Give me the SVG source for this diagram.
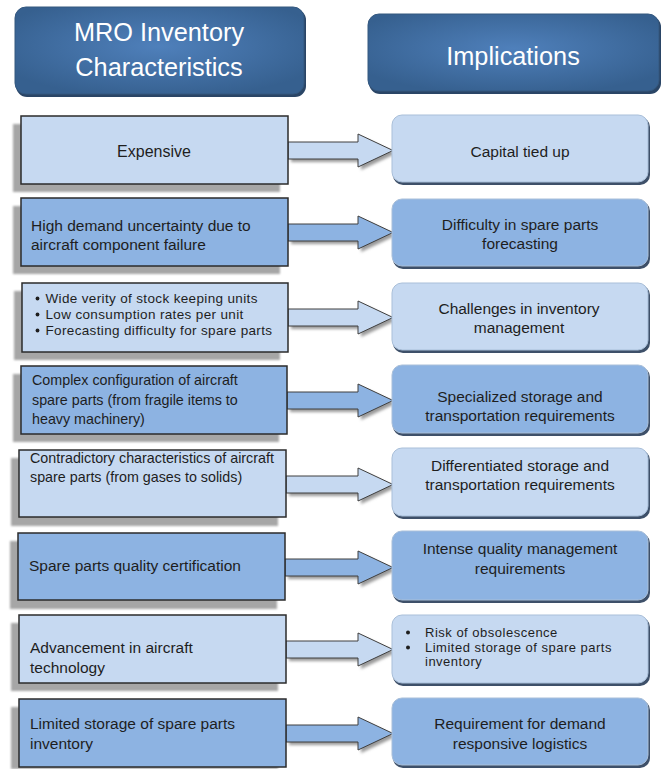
<svg xmlns="http://www.w3.org/2000/svg" width="664" height="769" viewBox="0 0 664 769">
<defs>
<radialGradient id="hg" cx="50%" cy="45%" r="60%">
<stop offset="0" stop-color="#4f80bb"/>
<stop offset="1" stop-color="#36608f"/>
</radialGradient>
<filter id="blur1" x="-10%" y="-10%" width="120%" height="130%"><feGaussianBlur stdDeviation="1.2"/></filter>
<filter id="blur2" x="-10%" y="-20%" width="120%" height="150%"><feGaussianBlur stdDeviation="1.5"/></filter>
<clipPath id="clipL7"><rect x="0" y="600" width="300" height="76"/></clipPath>
<clipPath id="clipR7"><rect x="390" y="600" width="270" height="75"/></clipPath>
<style>
.hdr{fill:url(#hg);stroke:#34587f;stroke-width:1}
.hsh{fill:#2a4566}
.ht{font-family:"Liberation Sans",Arial,sans-serif;font-size:25.3px;fill:#ffffff;text-anchor:middle}
.lsh{fill:#a6a6a6;filter:url(#blur1)}
.lb{stroke:#2b2b2b;stroke-width:1.5}
.light{fill:#c6d9f1}
.dark{fill:#8db3e2}
.t{font-family:"Liberation Sans",Arial,sans-serif;font-size:15.5px;fill:#1e1e1e}
.ts{font-size:14.3px}
.tb{font-size:13.5px;letter-spacing:0.35px}
.tbr{font-size:13px;letter-spacing:0.5px}
.c{text-anchor:middle}
.dot{fill:#1e1e1e}
.rsh{fill:#3e5069}
.rb{stroke:#a9bfd9;stroke-width:1}
.ash{fill:#9a9a9a;filter:url(#blur2)}
.arr{stroke:#3f3f3f;stroke-width:1;stroke-linejoin:miter}
</style>
</defs>
<rect width="664" height="769" fill="#ffffff"/>

<g id="hdr-left">
<rect class="hsh" x="16" y="9" width="290" height="88" rx="11"/>
<rect class="hdr" x="15" y="7" width="289" height="87" rx="11"/>
<text class="ht" x="159" y="41">MRO Inventory</text>
<text class="ht" x="159" y="76">Characteristics</text>
</g>
<g id="hdr-right">
<rect class="hsh" x="369" y="16" width="292" height="78" rx="11"/>
<rect class="hdr" x="368" y="14" width="291" height="77" rx="11"/>
<text class="ht" x="513" y="65">Implications</text>
</g>

<g id="connectors">
<path class="ash" d="M291,145 L361,145 L361,137 L396,153.5 L361,170 L361,162 L291,162 Z"/>
<path class="arr light" d="M288,142 L358,142 L358,134 L393,150.5 L358,167 L358,159 L288,159 Z"/>
<path class="ash" d="M291,227 L361,227 L361,219 L396,235.5 L361,252 L361,244 L291,244 Z"/>
<path class="arr dark" d="M288,224 L358,224 L358,216 L393,232.5 L358,249 L358,241 L288,241 Z"/>
<path class="ash" d="M291,312 L361,312 L361,304 L396,320.5 L361,337 L361,329 L291,329 Z"/>
<path class="arr light" d="M288,309 L358,309 L358,301 L393,317.5 L358,334 L358,326 L288,326 Z"/>
<path class="ash" d="M290,395 L361,395 L361,387 L396,403.5 L361,420 L361,412 L290,412 Z"/>
<path class="arr dark" d="M287,392 L358,392 L358,384 L393,400.5 L358,417 L358,409 L287,409 Z"/>
<path class="ash" d="M289,479 L361,479 L361,471 L396,487.5 L361,504 L361,496 L289,496 Z"/>
<path class="arr light" d="M286,476 L358,476 L358,468 L393,484.5 L358,501 L358,493 L286,493 Z"/>
<path class="ash" d="M288,562 L361,562 L361,554 L396,570.5 L361,587 L361,579 L288,579 Z"/>
<path class="arr dark" d="M285,559 L358,559 L358,551 L393,567.5 L358,584 L358,576 L285,576 Z"/>
<path class="ash" d="M289,644 L361,644 L361,636 L396,652.5 L361,669 L361,661 L289,661 Z"/>
<path class="arr light" d="M286,641 L358,641 L358,633 L393,649.5 L358,666 L358,658 L286,658 Z"/>
<path class="ash" d="M289,728 L361,728 L361,720 L396,736.5 L361,753 L361,745 L289,745 Z"/>
<path class="arr dark" d="M286,725 L358,725 L358,717 L393,733.5 L358,750 L358,742 L286,742 Z"/>
</g>

<g id="c1">
<rect class="lsh" x="13" y="124" width="267" height="68"/>
<rect class="lb light" x="21" y="116" width="267" height="68"/>
<text class="t c" x="154" y="157" style="font-size:16px">Expensive</text>
</g>
<g id="c2">
<rect class="lsh" x="13" y="206" width="267" height="68"/>
<rect class="lb dark" x="21" y="198" width="267" height="68"/>
<text class="t" x="31" y="231">High demand uncertainty due to</text>
<text class="t" x="31" y="250">aircraft component failure</text>
</g>
<g id="c3">
<rect class="lsh" x="14" y="291" width="266" height="69"/>
<rect class="lb light" x="22" y="283" width="266" height="69"/>
<circle class="dot" cx="37.5" cy="298.5" r="1.9"/><text class="t tb" x="45.5" y="303">Wide verity of stock keeping units</text>
<circle class="dot" cx="37.5" cy="314.5" r="1.9"/><text class="t tb" x="45.5" y="319">Low consumption rates per unit</text>
<circle class="dot" cx="37.5" cy="330.5" r="1.9"/><text class="t tb" x="45.5" y="335">Forecasting difficulty for spare parts</text>
</g>
<g id="c4">
<rect class="lsh" x="13" y="374" width="266" height="68"/>
<rect class="lb dark" x="21" y="366" width="266" height="68"/>
<text class="t ts" x="32" y="385">Complex configuration of aircraft</text>
<text class="t ts" x="32" y="405">spare parts (from fragile items to</text>
<text class="t ts" x="32" y="424">heavy machinery)</text>
</g>
<g id="c5">
<rect class="lsh" x="11" y="458" width="267" height="68"/>
<rect class="lb light" x="19" y="450" width="267" height="67"/>
<text class="t ts" x="30" y="463">Contradictory characteristics of aircraft</text>
<text class="t ts" x="30" y="482">spare parts (from gases to solids)</text>
</g>
<g id="c6">
<rect class="lsh" x="10" y="541" width="267" height="68"/>
<rect class="lb dark" x="18" y="533" width="267" height="67"/>
<text class="t" x="29" y="571">Spare parts quality certification</text>
</g>
<g id="c7">
<rect class="lsh" x="11" y="623" width="267" height="68"/>
<rect class="lb light" x="19" y="615" width="267" height="68"/>
<g clip-path="url(#clipL7)">
<text class="t" x="30" y="653">Advancement in aircraft</text>
<text class="t" x="30" y="673">technology</text>
</g>
</g>
<g id="c8">
<rect class="lsh" x="11" y="707" width="267" height="62"/>
<rect class="lb dark" x="19" y="699" width="267" height="68"/>
<text class="t" x="30" y="729">Limited storage of spare parts</text>
<text class="t" x="30" y="749">inventory</text>
</g>

<g id="i1">
<rect class="rsh" x="393" y="117" width="257" height="68" rx="10"/>
<rect class="rb light" x="392" y="115" width="256" height="67" rx="10"/>
<text class="t c" x="520" y="157">Capital tied up</text>
</g>
<g id="i2">
<rect class="rsh" x="393" y="201" width="257" height="68" rx="10"/>
<rect class="rb dark" x="392" y="199" width="256" height="67" rx="10"/>
<text class="t c" x="520" y="230">Difficulty in spare parts</text>
<text class="t c" x="520" y="249">forecasting</text>
</g>
<g id="i3">
<rect class="rsh" x="393" y="285" width="257" height="68" rx="10"/>
<rect class="rb light" x="392" y="283" width="256" height="67" rx="10"/>
<text class="t c" x="519" y="314">Challenges in inventory</text>
<text class="t c" x="519" y="333">management</text>
</g>
<g id="i4">
<rect class="rsh" x="393" y="367" width="257" height="69" rx="10"/>
<rect class="rb dark" x="392" y="365" width="256" height="68" rx="10"/>
<text class="t c" x="520" y="402">Specialized storage and</text>
<text class="t c" x="520" y="421">transportation requirements</text>
</g>
<g id="i5">
<rect class="rsh" x="393" y="450" width="257" height="69" rx="10"/>
<rect class="rb light" x="392" y="448" width="256" height="68" rx="10"/>
<text class="t c" x="520" y="471">Differentiated storage and</text>
<text class="t c" x="520" y="490">transportation requirements</text>
</g>
<g id="i6">
<rect class="rsh" x="393" y="533" width="257" height="70" rx="10"/>
<rect class="rb dark" x="392" y="531" width="256" height="69" rx="10"/>
<text class="t c" x="520" y="554">Intense quality management</text>
<text class="t c" x="520" y="574">requirements</text>
</g>
<g id="i7">
<rect class="rsh" x="393" y="617" width="257" height="69" rx="10"/>
<rect class="rb light" x="392" y="615" width="256" height="68" rx="10"/>
<g clip-path="url(#clipR7)">
<circle class="dot" cx="408" cy="632.5" r="2"/><text class="t tbr" x="425" y="637">Risk of obsolescence</text>
<circle class="dot" cx="408" cy="647.5" r="2"/><text class="t tbr" x="425" y="652">Limited storage of spare parts</text>
<text class="t tbr" x="425" y="666">inventory</text>
</g>
</g>
<g id="i8">
<rect class="rsh" x="393" y="700" width="257" height="68" rx="10"/>
<rect class="rb dark" x="392" y="698" width="256" height="67" rx="10"/>
<text class="t c" x="520" y="729">Requirement for demand</text>
<text class="t c" x="520" y="749">responsive logistics</text>
</g>
</svg>
